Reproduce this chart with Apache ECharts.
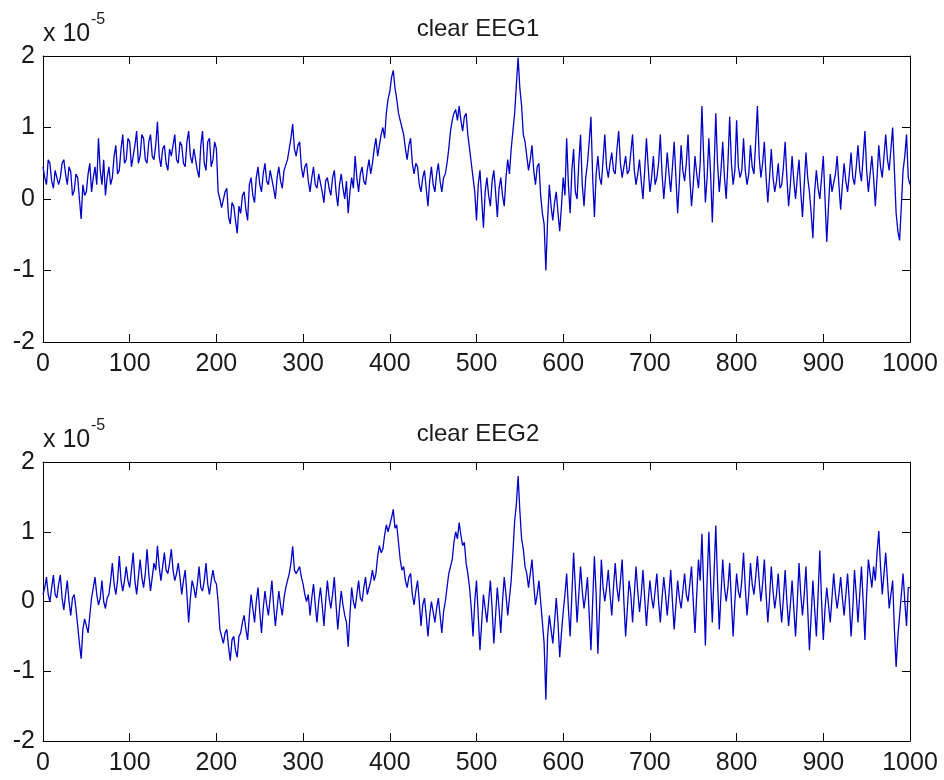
<!DOCTYPE html>
<html>
<head>
<meta charset="utf-8">
<script src="https://cdn.jsdelivr.net/npm/echarts@6/dist/echarts.min.js"></script>
<style>html,body{margin:0;padding:0;background:#fff}#c{width:944px;height:780px}</style>
</head>
<body>
<div id="c"></div>
<script>
// sample step along x (samples), values in units of 1e-5
var sampleStep = 2;
var xTicks = [0,100,200,300,400,500,600,700,800,900,1000];
var yTicks = [-2,-1,0,1,2];
var titles = ['clear EEG1', 'clear EEG2'];

var eeg1 = [
 0.45,0.3,0.2,0.55,0.5,0.25,0.15,0.4,0.42,0.2,0.3,0.5,0.55,0.35,0.2,0.45,0.38,0.05,0.12,0.35,
 0.3,0.0,-0.28,0.2,0.05,0.1,0.35,0.5,0.1,0.3,0.45,0.2,0.85,0.4,0.2,0.55,0.05,0.3,0.45,0.2,
 0.3,0.6,0.75,0.35,0.4,0.7,0.9,0.5,0.55,0.85,0.8,0.45,0.45,0.75,0.95,0.5,0.6,0.9,0.85,0.55,
 0.5,0.8,0.9,0.6,0.55,0.75,1.08,0.6,0.45,0.7,0.75,0.5,0.4,0.7,0.6,0.75,0.9,0.55,0.5,0.8,
 0.75,0.5,0.45,0.8,0.95,0.6,0.5,0.7,0.7,0.4,0.3,0.75,0.95,0.5,0.4,0.8,0.85,0.45,0.55,0.8,
 0.7,0.1,0.0,-0.12,-0.1,0.1,0.15,-0.25,-0.35,-0.05,-0.1,-0.3,-0.48,-0.1,-0.2,0.05,0.1,-0.15,-0.3,0.2,
 0.3,0.05,-0.05,0.3,0.45,0.2,0.1,0.35,0.5,0.25,0.2,0.4,0.4,0.15,0.0,0.3,0.45,0.25,0.15,0.4,
 0.4,0.55,0.7,0.85,1.05,0.7,0.6,0.75,0.8,0.45,0.3,0.45,0.5,0.25,0.1,0.3,0.45,0.2,0.15,0.35,
 0.35,0.1,-0.05,0.25,0.3,0.15,0.05,0.3,0.4,0.1,-0.1,0.2,0.35,0.15,0.0,0.25,-0.2,0.1,0.3,0.15,
 0.6,0.3,0.1,0.35,0.45,0.25,0.2,0.4,0.55,0.35,0.5,0.7,0.85,0.6,0.6,0.9,1.0,0.85,1.2,1.4,
 1.5,1.7,1.8,1.55,1.4,1.2,1.1,1.0,0.9,0.7,0.55,0.75,0.85,0.5,0.35,0.5,0.45,0.2,0.1,0.3,
 0.4,0.15,-0.1,0.25,0.45,0.2,0.1,0.35,0.5,0.25,0.1,0.3,0.35,0.5,0.7,0.95,1.1,1.2,1.25,1.1,
 1.3,1.1,0.95,1.15,1.2,0.9,0.7,0.5,0.3,0.1,-0.3,0.2,0.4,0.0,-0.4,0.1,0.3,0.05,-0.1,0.25,
 0.4,0.1,-0.25,0.15,0.3,0.05,-0.1,0.3,0.55,0.35,0.7,0.95,1.2,1.6,1.98,1.55,1.3,0.9,0.8,0.6,
 0.4,0.55,0.75,0.4,0.2,0.45,0.5,0.05,-0.2,-0.35,-1.0,-0.3,0.2,-0.1,-0.3,-0.05,0.1,-0.2,-0.45,-0.1,
 0.3,0.05,0.85,0.2,-0.2,0.4,0.7,0.1,0.0,0.5,0.9,0.2,-0.1,0.3,0.5,0.8,1.15,0.3,-0.25,0.35,
 0.6,0.3,0.2,0.55,0.9,0.45,0.3,0.5,0.65,0.4,0.35,0.7,0.95,0.5,0.3,0.45,0.6,0.35,0.4,0.65,
 0.9,0.4,0.2,0.35,0.55,0.25,0.0,0.4,0.85,0.45,0.1,0.3,0.6,0.2,0.3,0.5,0.9,0.35,0.0,0.3,
 0.65,0.35,0.1,0.45,0.8,0.3,-0.2,0.25,0.75,0.4,0.25,0.5,0.9,0.3,-0.1,0.2,0.6,0.35,0.15,0.5,
 1.3,0.6,-0.05,0.3,0.85,0.35,-0.33,0.4,1.2,0.5,0.1,0.4,0.8,0.3,0.0,0.5,1.15,0.5,0.2,0.4,
 1.1,0.45,0.3,0.4,0.85,0.4,0.2,0.35,0.75,0.45,0.35,0.8,1.3,0.6,0.3,0.5,0.8,0.3,-0.05,0.3,
 0.7,0.3,0.1,0.25,0.5,0.15,0.2,0.45,0.8,0.3,-0.1,0.2,0.6,0.25,0.0,0.3,0.55,0.1,-0.25,0.2,
 0.65,0.3,0.1,-0.2,-0.55,0.1,0.4,0.15,0.0,0.3,0.6,0.0,-0.6,-0.1,0.35,0.1,0.1,0.35,0.6,0.2,
 -0.15,0.2,0.5,0.25,0.1,0.35,0.65,0.3,0.2,0.45,0.75,0.4,0.25,0.6,0.95,0.4,0.1,0.35,0.6,0.3,
 -0.1,0.3,0.75,0.45,0.3,0.6,0.9,0.55,0.4,0.7,1.0,0.4,-0.2,-0.45,-0.58,-0.1,0.4,0.6,0.9,0.3,
 0.2
];

var eeg2 = [
 0.1,0.2,0.35,0.1,0.0,0.2,0.38,0.1,0.05,0.25,0.38,0.05,-0.12,0.1,0.3,0.0,-0.2,0.05,0.1,-0.1,
 -0.35,-0.6,-0.82,-0.4,-0.25,-0.35,-0.45,-0.2,0.05,0.2,0.35,0.1,-0.05,0.05,0.3,0.0,-0.1,0.05,0.1,0.3,
 0.55,0.25,0.1,0.3,0.65,0.3,0.15,0.3,0.5,0.3,0.2,0.45,0.7,0.3,0.1,0.35,0.6,0.35,0.2,0.4,
 0.75,0.4,0.15,0.35,0.55,0.45,0.8,0.5,0.3,0.5,0.7,0.45,0.4,0.55,0.75,0.45,0.3,0.4,0.55,0.35,
 0.1,0.3,0.45,0.1,-0.3,0.05,0.3,0.2,0.05,0.25,0.5,0.2,0.15,0.3,0.55,0.25,0.1,0.3,0.45,0.3,
 0.25,0.0,-0.4,-0.5,-0.6,-0.45,-0.4,-0.65,-0.85,-0.55,-0.5,-0.7,-0.8,-0.5,-0.45,-0.3,-0.2,-0.4,-0.55,-0.2,
 0.1,-0.1,-0.3,0.0,0.2,-0.15,-0.45,-0.1,0.15,-0.05,-0.2,0.05,0.3,-0.05,-0.35,-0.1,0.15,-0.05,-0.2,0.05,
 0.2,0.3,0.4,0.55,0.79,0.45,0.4,0.45,0.5,0.35,0.25,0.1,0.0,0.1,-0.2,0.05,0.25,-0.05,-0.3,0.0,
 0.2,-0.05,-0.35,0.0,0.3,0.05,-0.1,0.1,0.35,-0.05,-0.4,-0.1,0.15,-0.05,-0.2,-0.3,-0.65,-0.2,0.2,0.0,
 -0.1,0.1,0.3,0.05,0.0,0.2,0.35,0.1,0.1,0.3,0.45,0.3,0.4,0.65,0.8,0.7,0.75,0.95,1.1,1.0,
 1.0,1.2,1.32,1.05,1.1,0.85,0.6,0.45,0.5,0.3,0.2,0.35,0.4,0.1,-0.05,0.15,0.3,0.0,-0.35,-0.05,
 0.05,-0.2,-0.5,-0.2,0.0,-0.15,-0.3,-0.1,0.05,-0.2,-0.45,-0.15,0.0,0.2,0.4,0.5,0.6,0.85,1.0,0.9,
 1.13,0.95,0.8,0.85,0.55,0.4,0.2,-0.1,-0.5,0.0,0.3,-0.2,-0.7,-0.3,0.1,-0.1,-0.3,0.0,0.3,-0.1,
 -0.6,-0.2,0.2,-0.1,-0.45,0.0,0.35,0.1,-0.2,0.05,0.3,0.7,1.15,1.4,1.8,1.3,0.9,0.75,0.5,0.4,
 0.2,0.4,0.6,0.25,-0.05,0.1,0.3,0.0,-0.3,-0.6,-1.41,-0.5,-0.2,-0.4,-0.6,-0.3,0.05,-0.3,-0.8,-0.45,
 -0.15,0.1,0.4,-0.1,-0.5,0.1,0.7,0.2,-0.3,0.1,0.5,0.15,-0.1,0.1,0.35,-0.2,-0.7,0.0,0.65,0.1,
 -0.75,-0.1,0.6,0.2,0.0,0.2,0.45,0.1,-0.2,0.2,0.55,0.2,0.0,0.3,0.6,0.0,-0.5,-0.1,0.3,0.1,
 -0.3,0.1,0.5,0.15,-0.15,0.1,0.45,0.05,-0.35,0.0,0.3,0.05,-0.1,0.15,0.4,0.0,-0.3,0.05,0.35,0.1,
 -0.2,0.1,0.45,0.0,-0.4,-0.05,0.3,0.05,-0.1,0.15,0.4,0.1,0.0,0.25,0.5,0.0,-0.45,0.1,0.6,0.3,
 0.97,0.2,-0.63,0.3,1.0,0.3,-0.3,0.4,1.09,0.3,-0.4,0.1,0.6,0.2,0.0,0.2,0.55,0.0,-0.5,0.0,
 0.4,0.15,0.05,0.3,0.7,0.2,-0.2,0.1,0.55,0.25,0.1,0.35,0.65,0.3,0.0,0.25,0.6,0.1,-0.3,0.05,
 0.5,0.15,-0.1,0.1,0.4,0.0,-0.3,0.05,0.45,0.0,-0.35,-0.05,0.3,-0.1,-0.5,0.0,0.55,0.1,-0.2,0.1,
 0.5,-0.1,-0.7,-0.2,0.3,-0.1,-0.5,0.1,0.73,0.0,-0.55,-0.1,0.2,-0.05,-0.3,0.05,0.4,0.1,-0.1,0.1,
 0.35,0.05,-0.2,0.1,0.4,0.0,-0.5,-0.1,0.45,0.1,-0.3,0.1,0.5,0.0,-0.55,0.1,0.6,0.4,0.2,0.5,
 0.3,0.7,1.01,0.5,0.1,0.4,0.7,0.3,-0.1,0.1,0.3,-0.4,-0.94,-0.5,-0.2,0.1,0.4,0.0,-0.35,0.2,
 0.2
];

function pairs(arr){ return arr.map(function(v,i){ return [i*sampleStep, v]; }); }

var FONT = '"Liberation Sans", Arial, Helvetica, sans-serif';
var TXT = '#1a1a1a';
var grids = [
  {left:43, top:56, width:867, height:286},
  {left:43, top:462, width:867, height:279}
];

var xAxes = [], yAxes = [], series = [];
grids.forEach(function(g, gi){
  var lineStyle = {color:'#000', width:1};
  xAxes.push({type:'value', gridIndex:gi, min:xTicks[0], max:xTicks[xTicks.length-1], interval:100, position:'bottom',
    axisLine:{show:true, onZero:false, lineStyle:lineStyle},
    axisTick:{show:true, inside:true, length:8, lineStyle:lineStyle},
    axisLabel:{show:true, fontSize:25, color:TXT, fontFamily:FONT, margin:10,
      formatter:function(v){ return String(v); }},
    splitLine:{show:false}});
  xAxes.push({type:'value', gridIndex:gi, min:xTicks[0], max:xTicks[xTicks.length-1], interval:100, position:'top',
    axisLine:{show:true, onZero:false, lineStyle:lineStyle},
    axisTick:{show:true, inside:true, length:8, lineStyle:lineStyle},
    axisLabel:{show:false}, splitLine:{show:false}});
  yAxes.push({type:'value', gridIndex:gi, min:yTicks[0], max:yTicks[yTicks.length-1], interval:1, position:'left',
    axisLine:{show:true, onZero:false, lineStyle:lineStyle},
    axisTick:{show:true, inside:true, length:8, lineStyle:lineStyle},
    axisLabel:{show:true, fontSize:25, color:TXT, fontFamily:FONT, margin:8},
    splitLine:{show:false}});
  yAxes.push({type:'value', gridIndex:gi, min:yTicks[0], max:yTicks[yTicks.length-1], interval:1, position:'right',
    axisLine:{show:true, onZero:false, lineStyle:lineStyle},
    axisTick:{show:true, inside:true, length:8, lineStyle:lineStyle},
    axisLabel:{show:false}, splitLine:{show:false}});
});

series.push({type:'line', xAxisIndex:0, yAxisIndex:0, data:pairs(eeg1), showSymbol:false,
  lineStyle:{color:'#0000c8', width:1.3}, animation:false});
series.push({type:'line', xAxisIndex:2, yAxisIndex:2, data:pairs(eeg2), showSymbol:false,
  lineStyle:{color:'#0000c8', width:1.3}, animation:false});

var chart = echarts.init(document.getElementById('c'), null, {renderer:'canvas'});
chart.setOption({
  backgroundColor:'#fff',
  animation:false,
  title:[
    {text:titles[0], left:473, top:12, textAlign:'center', textStyle:{fontSize:24, fontWeight:'normal', color:TXT, fontFamily:FONT}},
    {text:titles[1], left:473, top:417, textAlign:'center', textStyle:{fontSize:24, fontWeight:'normal', color:TXT, fontFamily:FONT}}
  ],
  grid:grids,
  xAxis:xAxes,
  yAxis:yAxes,
  series:series,
  graphic:[
    {type:'text', left:43, top:22, style:{text:'x 10', fontSize:25, fill:TXT, fontFamily:FONT}},
    {type:'text', left:91, top:12, style:{text:'-5', fontSize:16, fill:TXT, fontFamily:FONT}},
    {type:'text', left:43, top:428, style:{text:'x 10', fontSize:25, fill:TXT, fontFamily:FONT}},
    {type:'text', left:91, top:418, style:{text:'-5', fontSize:16, fill:TXT, fontFamily:FONT}}
  ]
});
</script>
</body>
</html>
